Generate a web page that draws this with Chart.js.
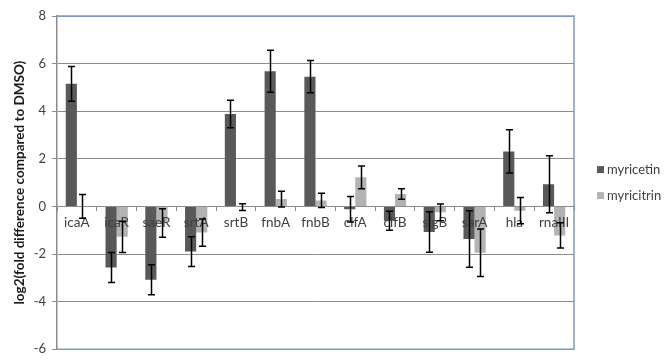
<!DOCTYPE html>
<html>
<head>
<meta charset="utf-8">
<script src="https://cdn.jsdelivr.net/npm/chart.js@4.4.1/dist/chart.umd.min.js"></script>
<style>
  html, body { margin: 0; padding: 0; background: #ffffff; }
  #wrap { width: 665px; height: 363px; }
</style>
</head>
<body>
<div id="wrap"><canvas id="c" width="665" height="363"></canvas></div>
<script>
// Genes on the category axis
const genes = ['icaA', 'icaR', 'saeR', 'srtA', 'srtB', 'fnbA', 'fnbB', 'clfA', 'clfB', 'sigB', 'sarA', 'hla', 'rnaIII'];

// log2 fold change versus DMSO, with error (± half-length of the bar)
const myricetin    = [5.15, -2.57, -3.08, -1.90, 3.88, 5.68, 5.45, -0.12, -0.60, -1.08, -1.37, 2.31, 0.93];
const myricetinErr = [0.73, 0.63, 0.63, 0.63, 0.58, 0.88, 0.68, 0.54, 0.40, 0.85, 1.19, 0.91, 1.20];
const myricitrin    = [0.00, -1.28, -0.70, -1.10, -0.03, 0.31, 0.25, 1.22, 0.52, -0.25, -1.95, -0.18, -1.22];
const myricitrinErr = [0.50, 0.66, 0.60, 0.57, 0.14, 0.33, 0.30, 0.48, 0.22, 0.35, 1.00, 0.55, 0.53];

// Y axis tick range
const yTicks = [-6, -4, -2, 0, 2, 4, 6, 8];

const FONT = 'Lato, "Open Sans", sans-serif';
const TEXT = '#404040';
const GRID = '#8c8c8c';

// Draws the ± error whiskers on every bar
const errorBars = {
  id: 'errorBars',
  afterDraw(chart) {
    const ctx = chart.ctx;
    const y = chart.scales.y;
    ctx.save();
    ctx.strokeStyle = '#000000';
    ctx.lineWidth = 1.5;
    chart.data.datasets.forEach((ds, di) => {
      const meta = chart.getDatasetMeta(di);
      meta.data.forEach((bar, i) => {
        const v = ds.data[i], e = ds.errors[i];
        const top = y.getPixelForValue(v + e);
        const bot = y.getPixelForValue(v - e);
        const x = Math.round(bar.x) + 0.5;
        ctx.beginPath();
        ctx.moveTo(x, top); ctx.lineTo(x, bot);
        ctx.moveTo(x - 3.5, top); ctx.lineTo(x + 3.5, top);
        ctx.moveTo(x - 3.5, bot); ctx.lineTo(x + 3.5, bot);
        ctx.stroke();
      });
    });
    ctx.restore();
  }
};

// Blue frame on the top, right and bottom edges of the plot area
const plotFrame = {
  id: 'plotFrame',
  beforeDatasetsDraw(chart) {
    const { ctx, chartArea: a } = chart;
    ctx.save();
    ctx.strokeStyle = '#7b9cc4';
    ctx.lineWidth = 1.5;
    ctx.beginPath();
    ctx.moveTo(a.left, a.top); ctx.lineTo(a.right, a.top);
    ctx.lineTo(a.right, a.bottom); ctx.lineTo(a.left, a.bottom);
    ctx.stroke();
    ctx.restore();
  }
};

// Series key to the right of the plot area
const sideLegend = {
  id: 'sideLegend',
  afterDraw(chart) {
    const { ctx, chartArea: a } = chart;
    ctx.save();
    ctx.font = '13px ' + FONT;
    ctx.textBaseline = 'middle';
    ctx.textAlign = 'left';
    const mid = (a.top + a.bottom) / 2;
    chart.data.datasets.forEach((ds, i) => {
      const cy = mid - 13 + i * 26;
      const bx = a.right + 23;
      ctx.fillStyle = ds.backgroundColor;
      ctx.fillRect(bx, cy - 3.5, 7, 7);
      ctx.fillStyle = TEXT;
      ctx.fillText(ds.label, bx + 10, cy);
    });
    ctx.restore();
  }
};

new Chart(document.getElementById('c'), {
  type: 'bar',
  data: {
    labels: genes,
    datasets: [
      { label: 'myricetin', data: myricetin, errors: myricetinErr,
        backgroundColor: '#595959', borderWidth: 0 },
      { label: 'myricitrin', data: myricitrin, errors: myricitrinErr,
        backgroundColor: '#b3b3b3', borderWidth: 0 }
    ]
  },
  options: {
    responsive: false,
    devicePixelRatio: 1,
    animation: false,
    categoryPercentage: 0.56,
    barPercentage: 1.0,
    layout: { padding: { top: 16, bottom: 4, left: 0, right: 91 } },
    plugins: {
      tooltip: { enabled: false },
      legend: { display: false }
    },
    scales: {
      x: {
        position: { y: 0 },
        grid: { display: true, drawOnChartArea: false, offset: true, tickLength: 4, color: GRID, z: 1 },
        border: { color: GRID, width: 1, z: 1 },
        ticks: { color: TEXT, font: { family: FONT, size: 13.5 }, padding: 4, maxRotation: 0, autoSkip: false, z: 1 }
      },
      y: {
        min: yTicks[0], max: yTicks[yTicks.length - 1],
        afterBuildTicks(scale) { scale.ticks = yTicks.map(v => ({ value: v })); },
        afterFit(scale) { scale.width = 57; },
        grid: { color: GRID, tickLength: 5, lineWidth: 1 },
        border: { color: GRID, width: 1.5 },
        ticks: { color: TEXT, font: { family: FONT, size: 13 }, padding: 6 },
        title: {
          display: true,
          text: 'log2(fold difference compared to DMSO)',
          color: '#1a1a1a',
          font: { family: FONT, size: 13.5, weight: 'bold' },
          padding: { top: 12, bottom: 0 }
        }
      }
    }
  },
  plugins: [plotFrame, errorBars, sideLegend]
});
</script>
</body>
</html>
